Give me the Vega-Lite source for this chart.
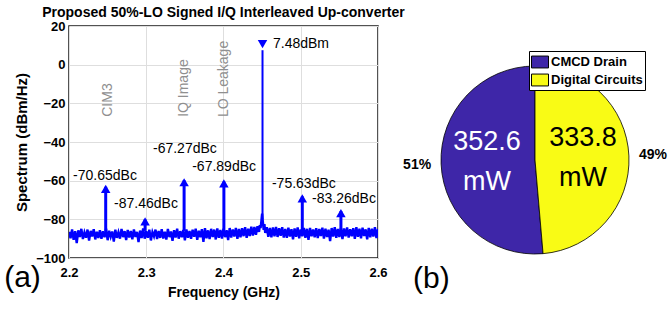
{
  "$schema": "https://vega.github.io/schema/vega-lite/v6.json",
  "padding": {"left": 3, "top": 5, "right": 0, "bottom": 0},
  "bounds": "flush",
  "spacing": 23,
  "config": {"font": "Liberation Sans", "view": {"stroke": null}},
  "datasets": {
    "noise": [
      {"f":2.200,"p":-86.5},{"f":2.202,"p":-89.8},{"f":2.204,"p":-85.2},{"f":2.206,"p":-90.6},{"f":2.208,"p":-86.1},
      {"f":2.210,"p":-92.3},{"f":2.212,"p":-85.7},{"f":2.214,"p":-89.1},{"f":2.216,"p":-84.9},{"f":2.218,"p":-90.2},
      {"f":2.220,"p":-86.8},{"f":2.222,"p":-89.5},{"f":2.224,"p":-85.3},{"f":2.226,"p":-91.0},{"f":2.228,"p":-86.0},
      {"f":2.230,"p":-88.9},{"f":2.232,"p":-85.1},{"f":2.234,"p":-90.4},{"f":2.236,"p":-86.4},{"f":2.238,"p":-89.7},
      {"f":2.240,"p":-85.6},{"f":2.242,"p":-90.1},{"f":2.244,"p":-86.2},{"f":2.246,"p":-89.3},{"f":2.248,"p":-84.8},
      {"f":2.250,"p":-90.8},{"f":2.252,"p":-85.9},{"f":2.254,"p":-89.0},{"f":2.256,"p":-86.3},{"f":2.258,"p":-91.5},
      {"f":2.260,"p":-85.4},{"f":2.262,"p":-89.6},{"f":2.264,"p":-86.7},{"f":2.266,"p":-90.0},{"f":2.268,"p":-85.0},
      {"f":2.270,"p":-89.2},{"f":2.272,"p":-86.1},{"f":2.274,"p":-90.7},{"f":2.276,"p":-85.5},{"f":2.278,"p":-89.4},
      {"f":2.280,"p":-86.0},{"f":2.282,"p":-90.3},{"f":2.284,"p":-85.2},{"f":2.286,"p":-89.1},{"f":2.288,"p":-86.5},
      {"f":2.290,"p":-91.8},{"f":2.292,"p":-85.8},{"f":2.294,"p":-89.7},{"f":2.296,"p":-84.7},{"f":2.298,"p":-90.0},
      {"f":2.300,"p":-86.2},{"f":2.302,"p":-89.5},{"f":2.304,"p":-85.4},{"f":2.306,"p":-90.9},{"f":2.308,"p":-86.6},
      {"f":2.310,"p":-88.8},{"f":2.312,"p":-85.3},{"f":2.314,"p":-90.2},{"f":2.316,"p":-86.0},{"f":2.318,"p":-89.6},
      {"f":2.320,"p":-85.1},{"f":2.322,"p":-89.9},{"f":2.324,"p":-86.4},{"f":2.326,"p":-90.5},{"f":2.328,"p":-85.0},
      {"f":2.330,"p":-89.2},{"f":2.332,"p":-86.3},{"f":2.334,"p":-91.1},{"f":2.336,"p":-85.6},{"f":2.338,"p":-89.4},
      {"f":2.340,"p":-84.9},{"f":2.342,"p":-90.0},{"f":2.344,"p":-86.1},{"f":2.346,"p":-89.3},{"f":2.348,"p":-85.5},
      {"f":2.350,"p":-90.8},{"f":2.352,"p":-85.2},{"f":2.354,"p":-89.5},{"f":2.356,"p":-86.0},{"f":2.358,"p":-90.1},
      {"f":2.360,"p":-85.4},{"f":2.362,"p":-89.0},{"f":2.364,"p":-84.8},{"f":2.366,"p":-90.6},{"f":2.368,"p":-85.9},
      {"f":2.370,"p":-89.3},{"f":2.372,"p":-85.1},{"f":2.374,"p":-91.6},{"f":2.376,"p":-84.6},{"f":2.378,"p":-89.8},
      {"f":2.380,"p":-85.7},{"f":2.382,"p":-90.2},{"f":2.384,"p":-84.9},{"f":2.386,"p":-89.1},{"f":2.388,"p":-85.3},
      {"f":2.390,"p":-90.4},{"f":2.392,"p":-84.7},{"f":2.394,"p":-89.6},{"f":2.396,"p":-85.5},{"f":2.398,"p":-89.9},
      {"f":2.400,"p":-84.8},{"f":2.402,"p":-89.2},{"f":2.404,"p":-85.6},{"f":2.406,"p":-90.7},{"f":2.408,"p":-84.5},
      {"f":2.410,"p":-89.4},{"f":2.412,"p":-85.2},{"f":2.414,"p":-88.9},{"f":2.416,"p":-84.4},{"f":2.418,"p":-90.1},
      {"f":2.420,"p":-85.0},{"f":2.422,"p":-89.3},{"f":2.424,"p":-84.6},{"f":2.426,"p":-88.7},{"f":2.428,"p":-84.1},
      {"f":2.430,"p":-89.5},{"f":2.432,"p":-84.9},{"f":2.434,"p":-88.6},{"f":2.436,"p":-83.8},{"f":2.438,"p":-88.4},
      {"f":2.440,"p":-84.0},{"f":2.442,"p":-88.0},{"f":2.444,"p":-83.5},{"f":2.446,"p":-86.5},{"f":2.447,"p":-83.0},
      {"f":2.448,"p":-84.5},{"f":2.449,"p":-81.0},{"f":2.4495,"p":-79.0},{"f":2.450,"p":-77.0},{"f":2.4505,"p":-79.5},
      {"f":2.451,"p":-81.5},{"f":2.452,"p":-85.5},{"f":2.453,"p":-82.5},{"f":2.454,"p":-87.0},{"f":2.456,"p":-84.0},
      {"f":2.458,"p":-89.0},{"f":2.460,"p":-84.5},{"f":2.462,"p":-89.3},{"f":2.464,"p":-84.2},{"f":2.466,"p":-88.8},
      {"f":2.468,"p":-83.9},{"f":2.470,"p":-89.1},{"f":2.472,"p":-84.6},{"f":2.474,"p":-88.5},{"f":2.476,"p":-84.1},
      {"f":2.478,"p":-89.4},
      {"f":2.480,"p":-85.0},{"f":2.482,"p":-89.6},{"f":2.484,"p":-84.3},{"f":2.486,"p":-88.9},{"f":2.488,"p":-85.1},
      {"f":2.490,"p":-90.3},{"f":2.492,"p":-84.7},{"f":2.494,"p":-89.0},{"f":2.496,"p":-84.2},{"f":2.498,"p":-89.8},
      {"f":2.500,"p":-85.3},{"f":2.502,"p":-88.7},{"f":2.504,"p":-84.5},{"f":2.506,"p":-89.5},{"f":2.508,"p":-84.9},
      {"f":2.510,"p":-90.6},{"f":2.512,"p":-84.4},{"f":2.514,"p":-88.8},{"f":2.516,"p":-85.2},{"f":2.518,"p":-89.3},
      {"f":2.520,"p":-84.6},{"f":2.522,"p":-89.7},{"f":2.524,"p":-85.0},{"f":2.526,"p":-88.6},{"f":2.528,"p":-84.3},
      {"f":2.530,"p":-90.0},{"f":2.532,"p":-84.8},{"f":2.534,"p":-89.2},{"f":2.536,"p":-85.4},{"f":2.538,"p":-91.2},
      {"f":2.540,"p":-84.5},{"f":2.542,"p":-88.9},{"f":2.544,"p":-84.1},{"f":2.546,"p":-89.6},{"f":2.548,"p":-85.0},
      {"f":2.550,"p":-89.1},{"f":2.552,"p":-84.4},{"f":2.554,"p":-90.2},{"f":2.556,"p":-84.7},{"f":2.558,"p":-88.8},
      {"f":2.560,"p":-84.2},{"f":2.562,"p":-89.4},{"f":2.564,"p":-85.1},{"f":2.566,"p":-88.7},{"f":2.568,"p":-84.6},
      {"f":2.570,"p":-90.1},{"f":2.572,"p":-84.0},{"f":2.574,"p":-89.0},{"f":2.576,"p":-84.9},{"f":2.578,"p":-89.8},
      {"f":2.580,"p":-84.3},{"f":2.582,"p":-88.6},{"f":2.584,"p":-85.2},{"f":2.586,"p":-90.4},{"f":2.588,"p":-84.5},
      {"f":2.590,"p":-89.3},{"f":2.592,"p":-84.8},{"f":2.594,"p":-88.9},{"f":2.596,"p":-84.1},{"f":2.598,"p":-89.7},
      {"f":2.600,"p":-85.0}
    ],
    "spurs": [
      {"f":2.2475,"p":-63.17,"kind":"spur"},
      {"f":2.2985,"p":-79.98,"kind":"spur"},
      {"f":2.349,"p":-59.79,"kind":"spur"},
      {"f":2.4005,"p":-60.41,"kind":"spur"},
      {"f":2.502,"p":-68.15,"kind":"spur"},
      {"f":2.552,"p":-75.78,"kind":"spur"},
      {"f":2.4505,"p":7.48,"kind":"carrier"}
    ],
    "labels": [
      {"f":2.2466,"p":-57.6,"t":"-70.65dBc"},
      {"f":2.2997,"p":-72.1,"t":"-87.46dBc"},
      {"f":2.350,"p":-43.6,"t":"-67.27dBc"},
      {"f":2.4008,"p":-52.9,"t":"-67.89dBc"},
      {"f":2.504,"p":-61.7,"t":"-75.63dBc"},
      {"f":2.556,"p":-69.5,"t":"-83.26dBc"},
      {"f":2.5003,"p":10.7,"t":"7.48dBm"}
    ],
    "notes": [
      {"f":2.2505,"p":-18.3,"t":"CIM3"},
      {"f":2.349,"p":-12.1,"t":"IQ Image"},
      {"f":2.4006,"p":-7.4,"t":"LO Leakage"}
    ],
    "panel": [
      {"f":2.1398,"p":-110.1,"t":"(a)"}
    ],
    "power": [
      {"name":"CMCD Drain","mw":352.6,"lab":"352.6|mW","pct":"51%"},
      {"name":"Digital Circuits","mw":333.8,"lab":"333.8|mW","pct":"49%"}
    ]
  },
  "hconcat": [
    {
      "width": 309,
      "height": 232,
      "view": {"stroke": "#1a1a1a", "strokeWidth": 1.5},
      "title": {"text": "Proposed 50%-LO Signed I/Q Interleaved Up-converter", "fontSize": 14, "fontWeight": "bold", "anchor": "middle", "offset": 0, "color": "black"},
      "encoding": {
        "x": {"field": "f", "type": "quantitative",
          "scale": {"domain": [2.2, 2.6], "nice": false, "zero": false},
          "axis": {"values": [2.2, 2.3, 2.4, 2.5, 2.6], "format": ".1f", "title": "Frequency (GHz)",
            "labelFontSize": 13, "labelFontWeight": "bold", "labelColor": "black", "labelPadding": 8,
            "labelFlush": false, "labelOverlap": false,
            "titleFontSize": 14, "titleFontWeight": "bold", "titleColor": "black", "titlePadding": 6,
            "ticks": false, "domain": false, "grid": true, "gridColor": "#dedede", "gridWidth": 1}},
        "y": {"field": "p", "type": "quantitative",
          "scale": {"domain": [-100, 20], "nice": false, "zero": false},
          "axis": {"values": [-100, -80, -60, -40, -20, 0, 20], "title": "Spectrum (dBm/Hz)",
            "labelFontSize": 13, "labelFontWeight": "bold", "labelColor": "black", "labelPadding": 4,
            "titleFontSize": 15, "titleFontWeight": "bold", "titleColor": "black", "titlePadding": 6,
            "ticks": false, "domain": false, "grid": true, "gridColor": "#dedede", "gridWidth": 1}}
      },
      "layer": [
        {"data": {"name": "noise"}, "mark": {"type": "line", "color": "#0000ff", "strokeWidth": 2.4, "clip": true}},
        {"data": {"name": "spurs"}, "transform": [{"filter": "datum.kind === 'spur'"}],
          "mark": {"type": "rule", "color": "#0000ff", "strokeWidth": 3}, "encoding": {"y2": {"datum": -86}}},
        {"data": {"name": "spurs"}, "transform": [{"filter": "datum.kind === 'carrier'"}],
          "mark": {"type": "rule", "color": "#0000ff", "strokeWidth": 2}, "encoding": {"y2": {"datum": -80}}},
        {"data": {"name": "spurs"}, "transform": [{"filter": "datum.kind === 'spur'"}],
          "mark": {"type": "point", "shape": "triangle-up", "filled": true, "color": "#0000ff", "size": 90, "opacity": 1, "yOffset": 2}},
        {"data": {"name": "spurs"}, "transform": [{"filter": "datum.kind === 'carrier'"}],
          "mark": {"type": "point", "shape": "triangle-down", "filled": true, "color": "#0000ff", "size": 90, "opacity": 1, "yOffset": -6}},
        {"data": {"name": "labels"}, "mark": {"type": "text", "fontSize": 14, "color": "black", "baseline": "middle", "align": "center"},
          "encoding": {"text": {"field": "t"}}},
        {"data": {"name": "notes"}, "mark": {"type": "text", "fontSize": 14, "color": "#8f8f8f", "angle": 270, "baseline": "middle", "align": "center"},
          "encoding": {"text": {"field": "t"}}},
        {"data": {"name": "panel"}, "mark": {"type": "text", "fontSize": 30, "color": "black", "baseline": "middle", "align": "center"},
          "encoding": {"text": {"field": "t"}}}
      ]
    },
    {
      "width": 268,
      "height": 268,
      "view": {"stroke": null},
      "data": {"name": "power"},
      "title": {"text": "(b)", "orient": "bottom", "anchor": "start", "fontSize": 30, "fontWeight": "normal", "offset": -30, "dx": 12, "color": "black"},
      "encoding": {
        "theta": {"field": "mw", "type": "quantitative", "stack": true},
        "order": {"field": "name", "type": "nominal", "sort": "descending"}
      },
      "layer": [
        {"mark": {"type": "arc", "outerRadius": 94, "stroke": "black", "strokeWidth": 0.8},
          "encoding": {"color": {"field": "name", "type": "nominal",
            "scale": {"domain": ["CMCD Drain", "Digital Circuits"], "range": ["#3e26a8", "#f9fb15"]},
            "legend": {"orient": "none", "legendX": 460, "legendY": 25, "title": null,
              "strokeColor": "black", "fillColor": "white", "padding": 2,
              "symbolType": "M-1,-0.7H1V0.7H-1Z", "symbolSize": 289, "symbolStrokeColor": "black", "symbolStrokeWidth": 1, "symbolOpacity": 1,
              "labelFontSize": 13, "labelFontWeight": "bold", "labelColor": "black", "labelOffset": 2, "rowPadding": 1}}}},
        {"mark": {"type": "text", "radius": 48, "fontSize": 27, "lineHeight": 40, "lineBreak": "|", "baseline": "middle", "align": "center", "dy": -20},
          "encoding": {"text": {"field": "lab", "type": "nominal"},
            "color": {"condition": {"test": "datum.name === 'CMCD Drain'", "value": "white"}, "value": "black"}}},
        {"mark": {"type": "text", "radius": 118, "fontSize": 14, "fontWeight": "bold", "color": "black", "baseline": "middle", "align": "center"},
          "encoding": {"text": {"field": "pct", "type": "nominal"}}}
      ]
    }
  ]
}
